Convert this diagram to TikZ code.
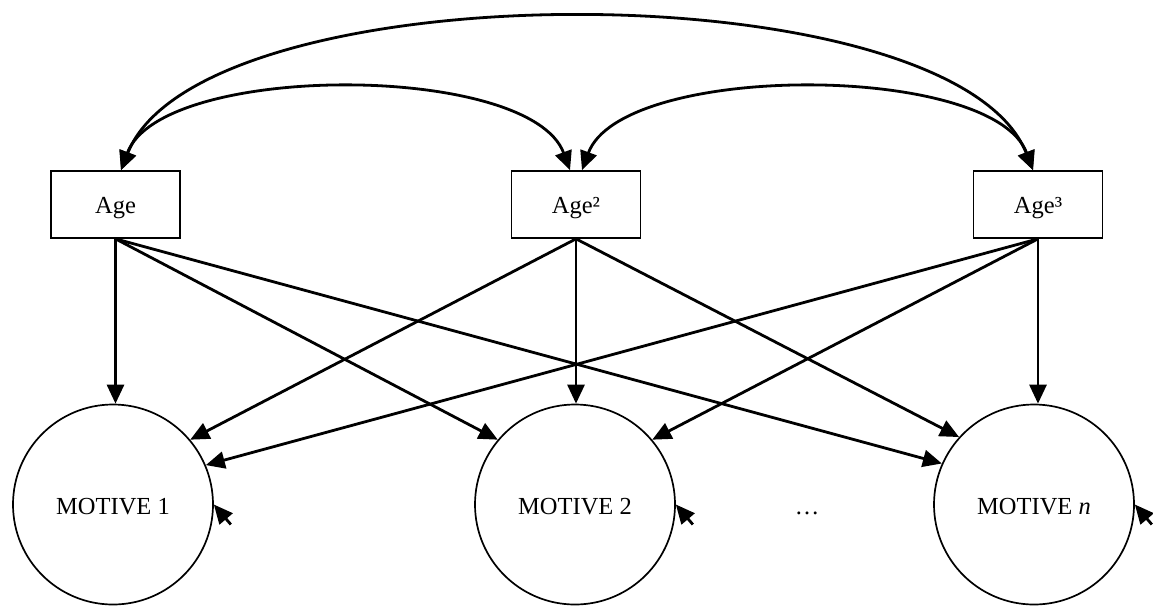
\documentclass[tikz,border=0pt]{standalone}
\usepackage{fontspec}
\setmainfont{Liberation Serif}
\usetikzlibrary{arrows.meta}
\begin{document}
\begin{tikzpicture}[x=1pt,y=-1pt,
  font=\fontsize{24.5}{29}\selectfont,
  varbox/.style={draw,line width=1.7pt,minimum width=129pt,minimum height=67pt,
    inner sep=0pt,text height=18.4pt,text depth=0pt},
  latent/.style={draw,circle,line width=1.7pt,minimum size=200pt,inner sep=0pt,
    text height=19.8pt,text depth=0pt},
  tip/.tip={Triangle[length=19pt,width=17pt]},
  effect/.style={line width=2.8pt,-tip},
  cov/.style={line width=2.8pt,tip-tip},
]
\useasboundingbox (0,0) rectangle (1153,606);

% observed predictors
\node[varbox] (age)  at (115.5,204.5) {Age};
\node[varbox] (age2) at (576,204.5)   {Age²};
\node[varbox] (age3) at (1038,204.5)  {Age³};

% latent motives
\node[latent] (m1) at (113,504.5)  {MOTIVE 1};
\node[latent] (m2) at (575,504.5)  {MOTIVE 2};
\node[latent] (mn) at (1034,504.5) {MOTIVE \textit{n}};
\node[anchor=base,inner sep=0pt] (dots) at (807,514) {…};

% covariances among the age terms
\draw[cov] ([xshift=5.5pt]age.north) .. controls +(40,-108) and +(-40,-108) .. ([xshift=-6pt]age2.north);
\draw[cov] ([xshift=6pt]age2.north) .. controls +(40,-108) and +(-40,-108) .. ([xshift=-5pt]age3.north);
\draw[cov] ([xshift=5.5pt]age.north) .. controls +(80,-202) and +(-80,-202) .. ([xshift=-5pt]age3.north);

% regression paths
\draw[effect] (age.south) -- (age.south |- m1.north);
\draw[effect] (age.south) -- (m2.140);
\draw[effect] (age.south) -- (mn.156);
\draw[effect] (age2.south) -- (m1.40);
\draw[effect] (age2.south) -- (age2.south |- m2.north);
\draw[effect] (age2.south) -- (mn.138);
\draw[effect] (age3.south) -- (m1.23);
\draw[effect] (age3.south) -- (m2.40);
\draw[effect] (age3.south) -- (age3.south |- mn.north);

% residuals
\coordinate (r1) at ([shift={(17,20)}]m1.east);
\coordinate (r2) at ([shift={(17,20)}]m2.east);
\coordinate (rn) at ([shift={(17,20)}]mn.east);
\draw[effect] (r1) -- (m1.east);
\draw[effect] (r2) -- (m2.east);
\draw[effect] (rn) -- (mn.east);
\end{tikzpicture}
\end{document}
